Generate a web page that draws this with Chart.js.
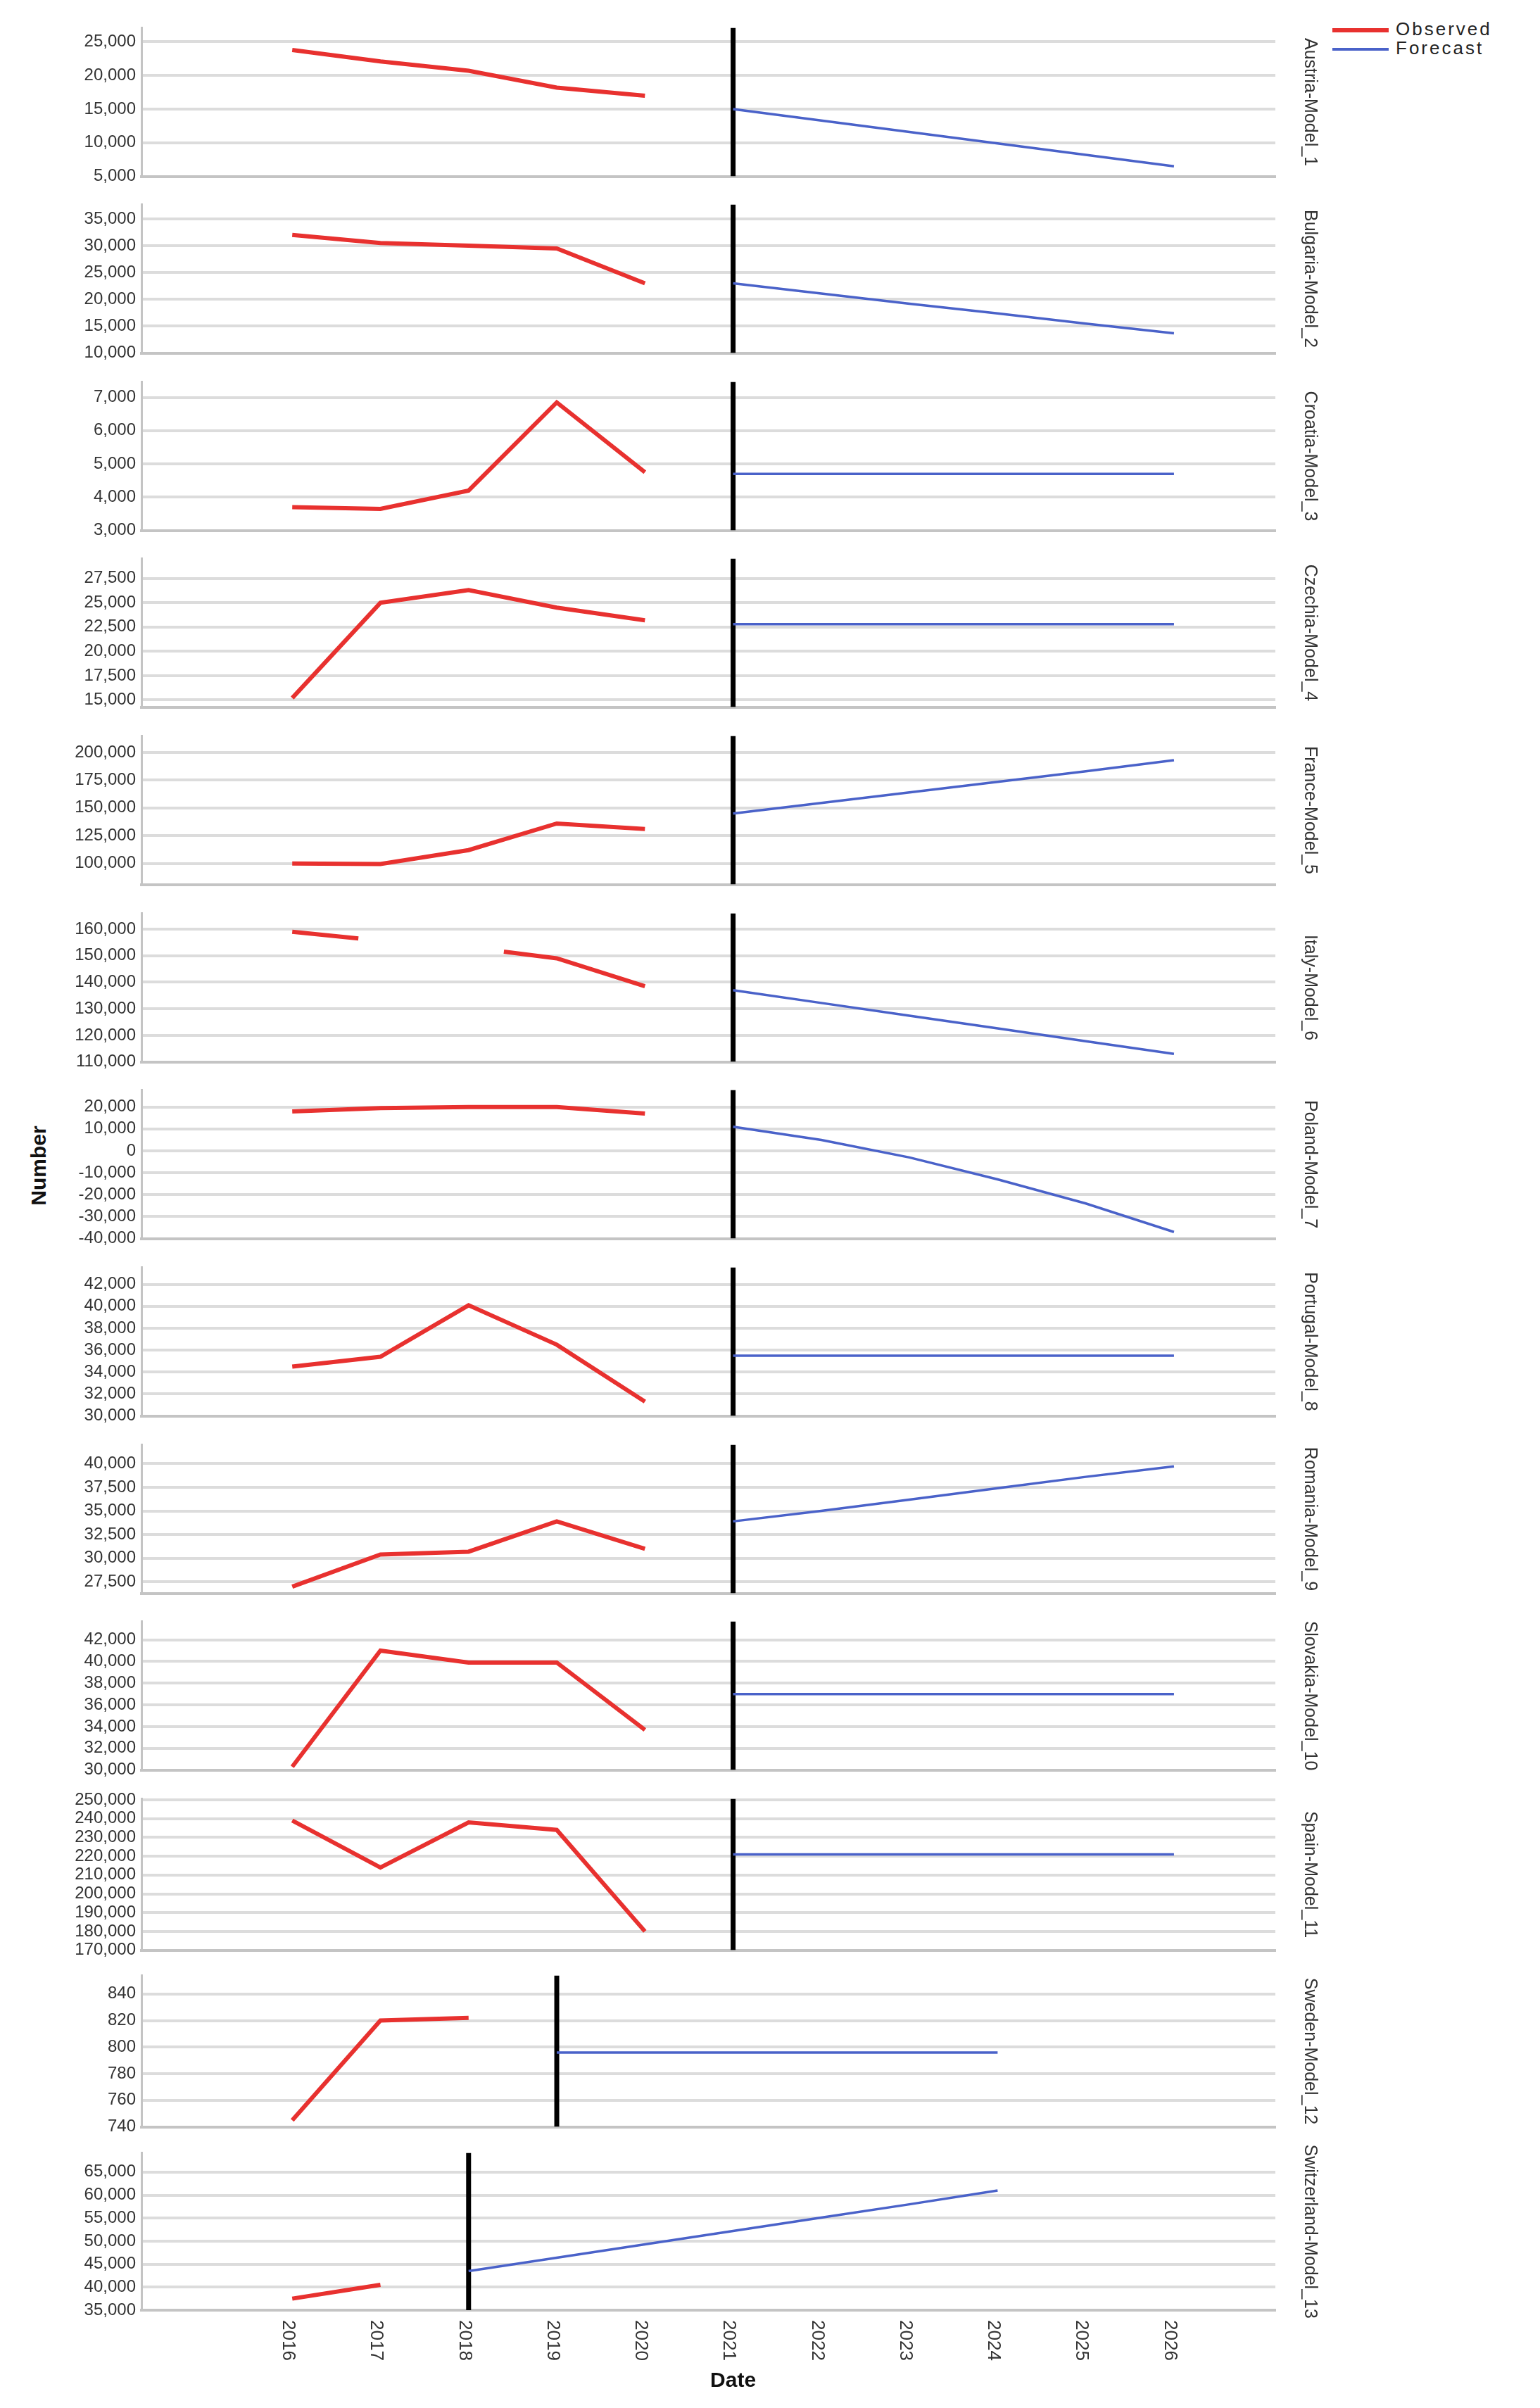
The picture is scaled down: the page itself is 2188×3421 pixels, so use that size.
<!DOCTYPE html>
<html><head><meta charset="utf-8">
<script src="https://cdn.jsdelivr.net/npm/chart.js@4/dist/chart.umd.min.js"></script>
<style>
body{margin:0;background:#fff;width:2188px;height:3421px;position:relative;overflow:hidden;font-family:"Liberation Sans",Arial,sans-serif}
canvas{position:absolute;left:0}
#legend{position:absolute;left:1893px;top:28px;font-size:26px;letter-spacing:3px;color:#222;line-height:27px}
#legend span{display:inline-block;width:80px;height:6px;vertical-align:middle;margin-right:10px}
#ylab{position:absolute;left:55px;top:1656px;transform:translate(-50%,-50%) rotate(-90deg);font-weight:bold;font-size:30px;color:#111}
</style></head><body>
<div id="legend"><div><span style="background:#e8312f"></span>Observed</div><div><span style="background:#4a62c9;height:4px"></span>Forecast</div></div>
<div id="ylab">Number</div>
<script>
const years = [2016,2017,2018,2019,2020,2021,2022,2023,2024,2025,2026];
const obsYears = [2016,2017,2018,2019,2020];
const fcYears = [2021,2022,2023,2024,2025,2026];
const panelNames = ["Austria-Model_1","Bulgaria-Model_2","Croatia-Model_3","Czechia-Model_4","France-Model_5","Italy-Model_6","Poland-Model_7","Portugal-Model_8","Romania-Model_9","Slovakia-Model_10","Spain-Model_11","Sweden-Model_12","Switzerland-Model_13"];
const austriaObs = [23800,22100,20700,18200,17000];
const austriaFc = [15000,13300,11600,9900,8200,6500];
const bulgariaObs = [32000,30500,30000,29500,23000];
const bulgariaFc = [23000,21100,19200,17400,15500,13700];
const croatiaObs = [3700,3650,4200,6850,4750];
const croatiaFc = [4700,4700,4700,4700,4700,4700];
const czechiaObs = [15200,25000,26300,24500,23200];
const czechiaFc = [22800,22800,22800,22800,22800,22800];
const franceObs = [100000,99500,112000,136000,131000];
const franceFc = [145000,154500,164000,173500,183000,193000];
const italyObsX = [2016,2016.75,2017.5,2018.4,2019,2020];
const italyObs = [159000,156500,null,151500,149000,138500];
const italyFc = [137000,132200,127400,122600,117800,113000];
const polandObs = [18000,19500,20000,20000,17000];
const polandFc = [11000,5000,-3000,-13000,-24000,-37000];
const portugalObs = [34500,35400,40100,36500,31300];
const portugalFc = [35500,35500,35500,35500,35500,35500];
const romaniaObs = [27000,30400,30700,33900,31000];
const romaniaFc = [33900,35000,36200,37400,38600,39700];
const slovakiaObs = [30300,41000,39900,39900,33700];
const slovakiaFc = [37000,37000,37000,37000,37000,37000];
const spainObs = [239000,214000,238000,234000,180000];
const spainFc = [221000,221000,221000,221000,221000,221000];
const swedenObsYears = [2016,2017,2018];
const swedenObs = [745,820,822];
const swedenFcYears = [2019,2020,2021,2022,2023,2024];
const swedenFc = [796,796,796,796,796,796];
const swissObsYears = [2016,2017];
const swissObs = [37500,40500];
const swissFcYears = [2018,2019,2020,2021,2022,2023,2024];
const swissFc = [43500,46400,49300,52200,55100,58000,61000];
const cutYears = [2021,2021,2021,2021,2021,2021,2021,2021,2021,2021,2021,2019,2018];
const yRanges = [[5000,27100,5000],[10000,37700,5000],[3000,7470,1000],[14260,29560,2500],[81000,215000,25000],[110000,166000,10000],[-40000,27800,10000],[30000,43560,2000],[26300,42000,2500],[30000,43700,2000],[170000,250600,10000],[740,854,20],[35000,69200,5000]];

const series = [
 [obsYears,austriaObs,fcYears,austriaFc],[obsYears,bulgariaObs,fcYears,bulgariaFc],
 [obsYears,croatiaObs,fcYears,croatiaFc],[obsYears,czechiaObs,fcYears,czechiaFc],
 [obsYears,franceObs,fcYears,franceFc],[italyObsX,italyObs,fcYears,italyFc],
 [obsYears,polandObs,fcYears,polandFc],[obsYears,portugalObs,fcYears,portugalFc],
 [obsYears,romaniaObs,fcYears,romaniaFc],[obsYears,slovakiaObs,fcYears,slovakiaFc],
 [obsYears,spainObs,fcYears,spainFc],[swedenObsYears,swedenObs,swedenFcYears,swedenFc],
 [swissObsYears,swissObs,swissFcYears,swissFc]];

const S = 2.188, PAD = 14;
const tops = [14,129,244,359,474,589,704,819,934,1049,1164,1279,1394];
const bots = [118,233,348,463,578,693,808,923,1038,1153,1270,1385,1500];
const pts = (xs,ys)=>xs.map((x,i)=>({x:x,y:ys[i]}));
const font = '"Liberation Sans Narrow","Liberation Sans",Arial,sans-serif';

const xLabels = {
  id:'xLabels',
  afterDraw(chart){
    if(!chart.options.plugins.xLabels.on) return;
    const ctx=chart.ctx, xs=chart.scales.x, base=chart.chartArea.bottom;
    ctx.save(); ctx.fillStyle='#333'; ctx.font='26px '+font;
    years.forEach(y=>{
      ctx.save(); ctx.translate(xs.getPixelForValue(y)-6, base+14); ctx.rotate(Math.PI/2);
      ctx.textAlign='left'; ctx.textBaseline='middle'; ctx.fillText(String(y),0,0); ctx.restore();
    });
    ctx.font='bold 30px "Liberation Sans",Arial,sans-serif'; ctx.fillStyle='#111';
    ctx.textAlign='center'; ctx.textBaseline='middle';
    ctx.fillText('Date', xs.getPixelForValue(2021), base+101);
    ctx.restore();
  }
};

panelNames.forEach((name,i)=>{
  const last = i===panelNames.length-1;
  const top = Math.round(tops[i]*S);
  const plotH = Math.round((bots[i]-tops[i])*S);
  const cTop = top-PAD;
  const h = last ? 3421-cTop : plotH+2*PAD;
  const c = document.createElement('canvas');
  c.width=1880; c.height=h; c.style.top=cTop+'px'; c.style.width='1880px'; c.style.height=h+'px';
  document.body.appendChild(c);
  const [mn,mx,st]=yRanges[i];
  const [ox,oy,fx,fy]=series[i];
  new Chart(c,{
    type:'line',
    data:{datasets:[
      {data:pts(ox,oy),borderColor:'#e8312f',borderWidth:6,pointRadius:0,spanGaps:false,tension:0},
      {data:pts(fx,fy),borderColor:'#4a62c9',borderWidth:3.5,pointRadius:0,tension:0},
      {data:[{x:cutYears[i],y:mn},{x:cutYears[i],y:mx}],borderColor:'#000',borderWidth:7,pointRadius:0}
    ]},
    options:{
      responsive:false,animation:false,devicePixelRatio:1,
      layout:{autoPadding:false,padding:{top:PAD,bottom:last?0:PAD,left:0,right:0}},
      plugins:{legend:{display:false},tooltip:{enabled:false},xLabels:{on:last}},
      scales:{
        x:{type:'linear',min:2014.29,max:2027.15,
           grid:{display:false},ticks:{display:false},
           border:{display:true,color:'#c4c4c4',width:4},
           afterFit:s=>{s.height = last ? h-PAD-plotH : 0;}},
        y:{position:'left',min:mn,max:mx,
           afterBuildTicks:s=>{const t=[];for(let v=Math.ceil(mn/st)*st;v<=mx+1e-9;v+=st)t.push({value:v});s.ticks=t;},
           ticks:{color:'#333',font:{family:font,size:24},padding:8,autoSkip:false,callback:v=>v.toLocaleString('en-US')},
           grid:{color:'#dcdcdc',lineWidth:4,drawTicks:false},
           border:{display:true,color:'#c4c4c4',width:3},
           afterFit:s=>{s.width=201;}},
        y2:{position:'right',min:0,max:1,grid:{display:false},ticks:{display:false},border:{display:false},
           title:{display:true,text:name,color:'#333',font:{family:font,size:25},padding:4},
           afterFit:s=>{s.width=1880-1812;}}
      }
    },
    plugins:[xLabels]
  });
});
</script></body></html>
